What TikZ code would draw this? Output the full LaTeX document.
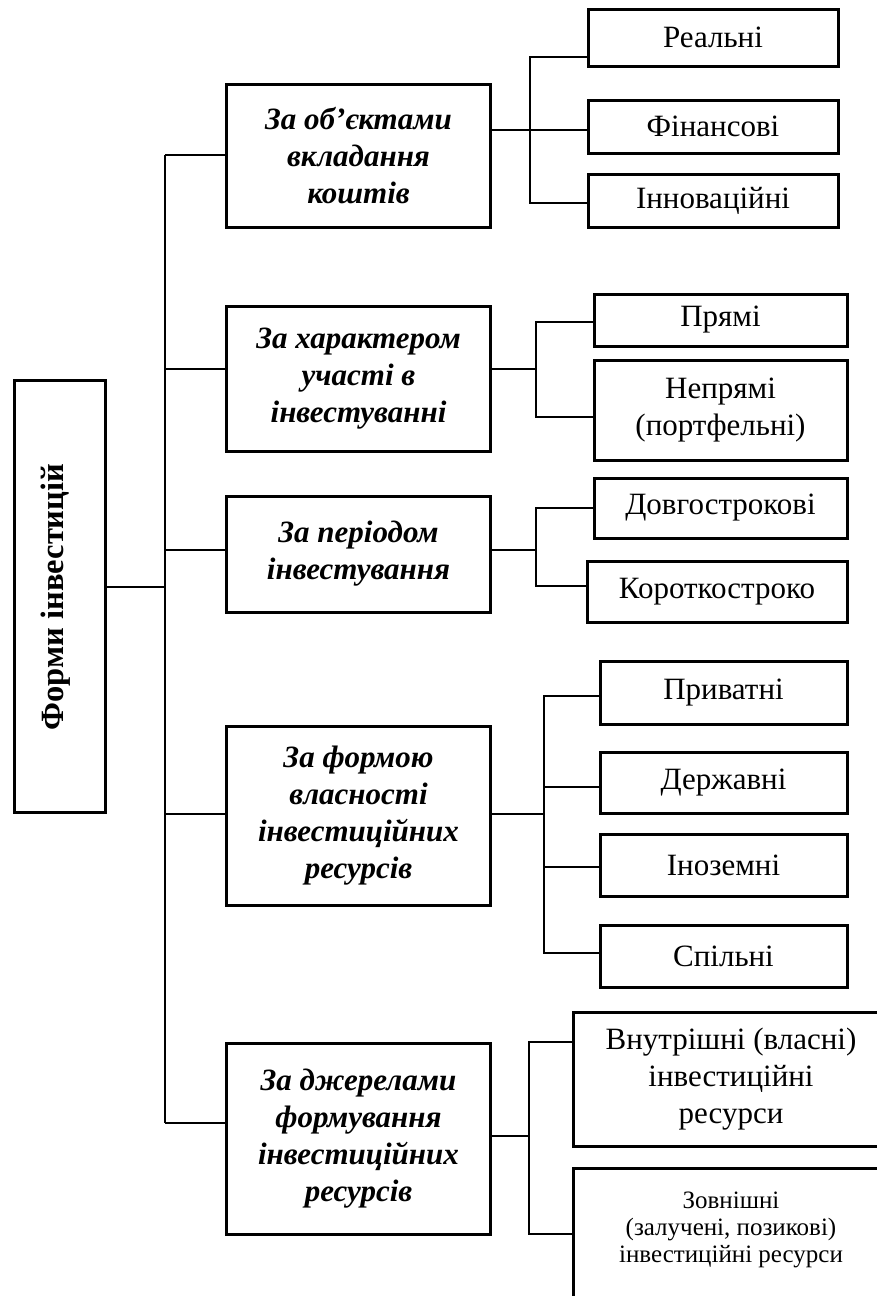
\documentclass[tikz,border=0pt]{standalone}
\usepackage{fontspec}
\setmainfont{Liberation Serif}
\begin{document}
\begin{tikzpicture}[x=1pt,y=-1pt,
  box/.style={draw, line width=3pt, inner sep=0pt, align=center},
  mid/.style={box, minimum width=264pt, font=\fontsize{31}{37}\selectfont\bfseries\itshape},
  leaf/.style={box, font=\fontsize{31}{37}\selectfont},
  conn/.style={line width=2pt}]
\useasboundingbox (0,0) rectangle (877,1296);
\clip (0,0) rectangle (877,1296);
% root
\node[box, minimum width=91pt, minimum height=432pt] (root) at (60,596) {};
\node[rotate=90, font=\fontsize{32.5}{37}\selectfont\bfseries] (roott) at (56,597) {Форми інвестицій};
% middle boxes
\node[mid, minimum height=143pt] (b1) at (358.5,155.5) {За об’єктами\\вкладання\\коштів};
\node[mid, minimum height=145pt] (b2) at (358.5,378.5) {За характером\\участі в\\інвестуванні};
\node[mid, minimum height=116pt] (b3) at (358.5,554) {За періодом\\інвестування};
\node[mid, minimum height=179pt] (b4) at (358.5,815.5) {За формою\\власності\\інвестиційних\\ресурсів};
\node[mid, minimum height=191pt] (b5) at (358.5,1138.5) {За джерелами\\формування\\інвестиційних\\ресурсів};
% leaves
\node[leaf, minimum width=250pt, minimum height=57pt] (r11) at (713,37.5) {Реальні};
\node[leaf, minimum width=250pt, minimum height=53pt] (r12) at (713,126.5) {Фінансові};
\node[leaf, minimum width=250pt, minimum height=53pt] (r13) at (713,200.5) {Інноваційні};
\node[leaf, minimum width=253pt, minimum height=52pt] (r21) at (720.5,320) {Прямі};
\node[leaf, minimum width=253pt, minimum height=100pt] (r22) at (720.5,410) {Непрямі\\(портфельні)};
\node[leaf, minimum width=253pt, minimum height=60pt] (r31) at (720.5,508) {Довгострокові};
\node[leaf, minimum width=260pt, minimum height=61pt] (r32) at (717,591.5) {Короткостроко};
\node[leaf, minimum width=247pt, minimum height=63pt] (r41) at (723.5,692.5) {Приватні};
\node[leaf, minimum width=247pt, minimum height=61pt] (r42) at (723.5,782.5) {Державні};
\node[leaf, minimum width=247pt, minimum height=62pt] (r43) at (723.5,865) {Іноземні};
\node[leaf, minimum width=247pt, minimum height=62pt] (r44) at (723.5,956) {Спільні};
\node[leaf, minimum width=316pt, minimum height=134pt] (r51) at (731,1079) {Внутрішні (власні)\\інвестиційні\\ресурси};
\node[box, minimum width=316pt, minimum height=142pt] (r52) at (731,1239) {};
\node[align=center, inner sep=0pt, font=\fontsize{25}{27}\selectfont] (r52t) at (731,1230) {Зовнішні\\(залучені, позикові)\\інвестиційні ресурси};
% trunk
\coordinate (j0) at (165,587);
\coordinate (j1) at (165,155);
\coordinate (j2) at (165,369);
\coordinate (j3) at (165,550);
\coordinate (j4) at (165,814);
\coordinate (j5) at (165,1123);
\draw[conn] (j1) -- (j5);
\draw[conn] (root.east |- j0) -- (j0);
\draw[conn] (j1) -- (j1 -| b1.west);
\draw[conn] (j2) -- (j2 -| b2.west);
\draw[conn] (j3) -- (j3 -| b3.west);
\draw[conn] (j4) -- (j4 -| b4.west);
\draw[conn] (j5) -- (j5 -| b5.west);
% group 1
\coordinate (s1) at (530,130);
\coordinate (s1a) at (530,57);
\coordinate (s1b) at (530,203);
\draw[conn] (s1 -| b1.east) -- (s1);
\draw[conn] (r11.west |- s1a) -- (s1a) -- (s1b) -- (r13.west |- s1b);
\draw[conn] (s1) -- (s1 -| r12.west);
% group 2
\coordinate (s2) at (536,369);
\coordinate (s2a) at (536,322);
\coordinate (s2b) at (536,417);
\draw[conn] (s2 -| b2.east) -- (s2);
\draw[conn] (r21.west |- s2a) -- (s2a) -- (s2b) -- (r22.west |- s2b);
% group 3
\coordinate (s3) at (536,550);
\coordinate (s3a) at (536,508);
\coordinate (s3b) at (536,586);
\draw[conn] (s3 -| b3.east) -- (s3);
\draw[conn] (r31.west |- s3a) -- (s3a) -- (s3b) -- (r32.west |- s3b);
% group 4
\coordinate (s4) at (544,814);
\coordinate (s4a) at (544,696);
\coordinate (s4b) at (544,787);
\coordinate (s4c) at (544,867);
\coordinate (s4d) at (544,953);
\draw[conn] (s4 -| b4.east) -- (s4);
\draw[conn] (r41.west |- s4a) -- (s4a) -- (s4d) -- (r44.west |- s4d);
\draw[conn] (s4b) -- (s4b -| r42.west);
\draw[conn] (s4c) -- (s4c -| r43.west);
% group 5
\coordinate (s5) at (529,1136);
\coordinate (s5a) at (529,1042);
\coordinate (s5b) at (529,1234);
\draw[conn] (s5 -| b5.east) -- (s5);
\draw[conn] (r51.west |- s5a) -- (s5a) -- (s5b) -- (r52.west |- s5b);
\end{tikzpicture}
\end{document}
